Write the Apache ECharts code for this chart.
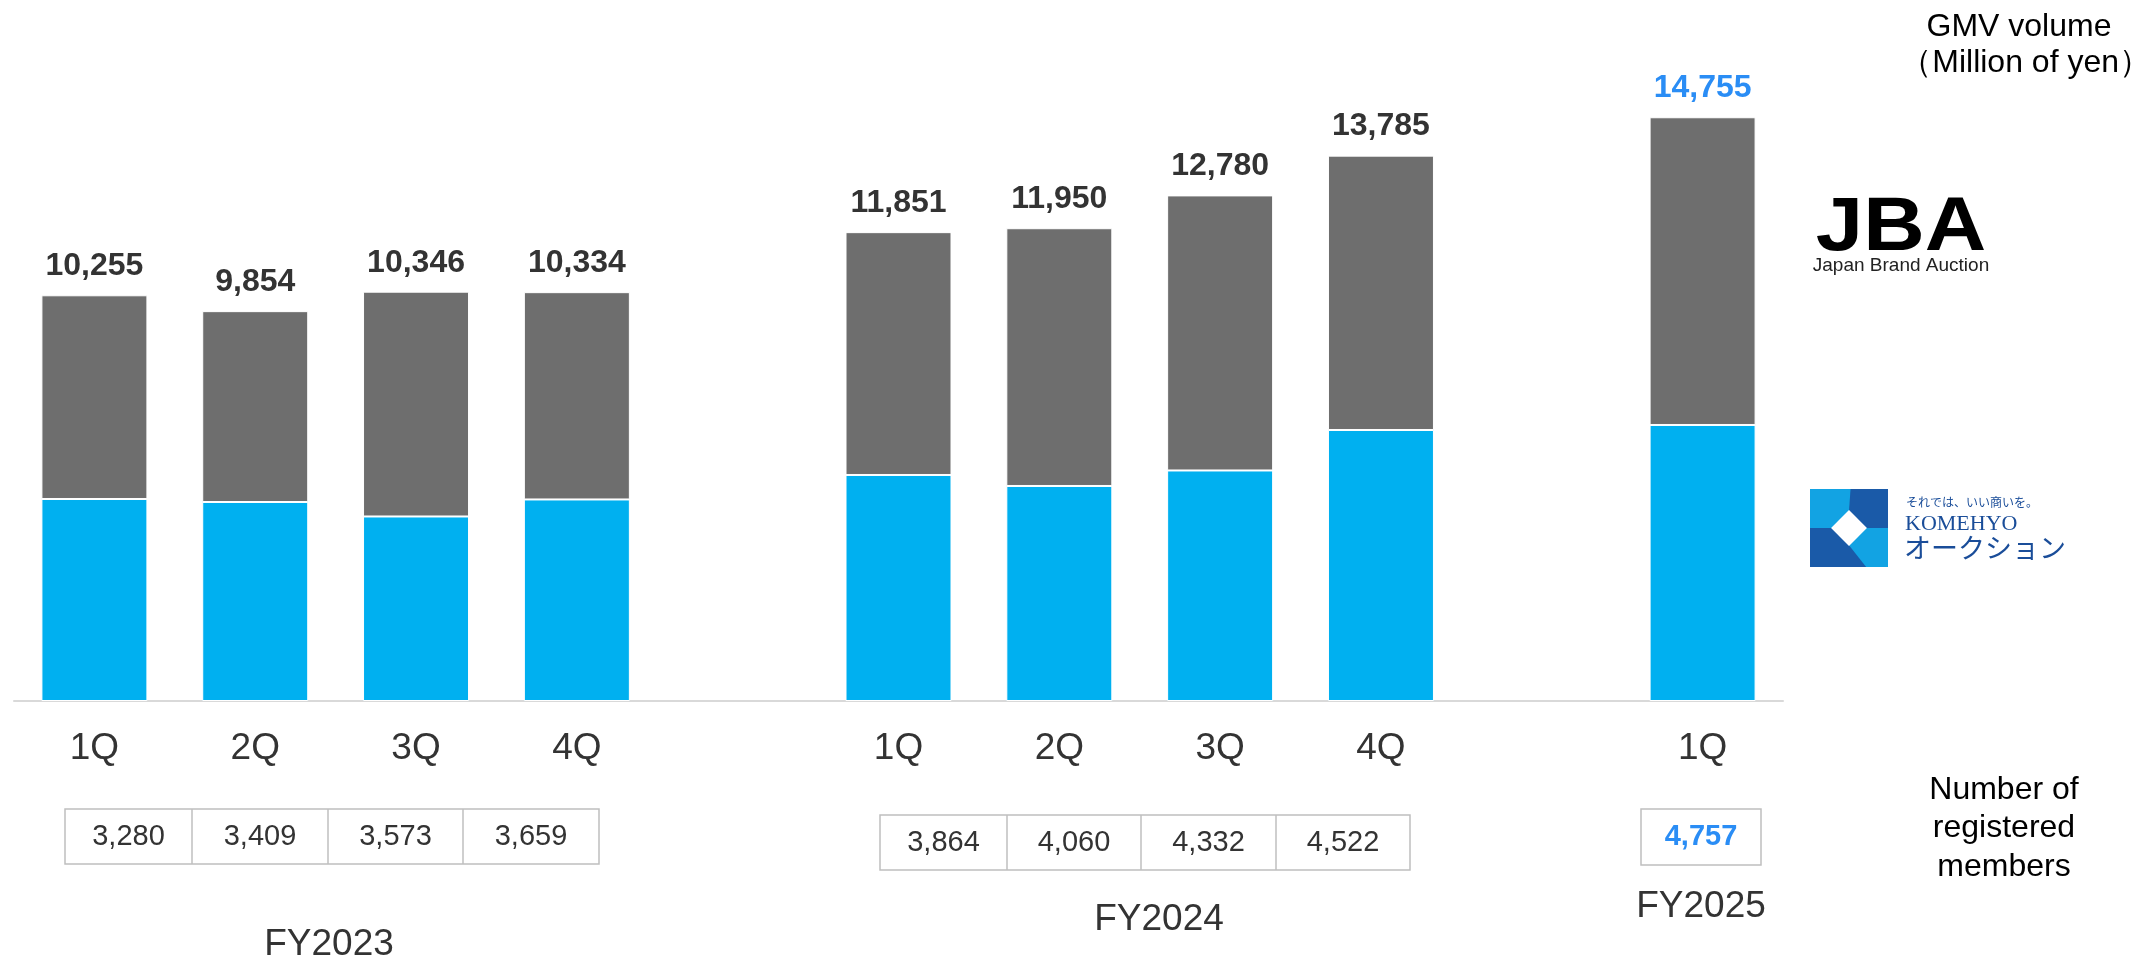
<!DOCTYPE html>
<html>
<head>
<meta charset="utf-8">
<script src="https://cdn.jsdelivr.net/npm/echarts@6/dist/echarts.min.js"></script>
<style>
  html, body { margin: 0; padding: 0; background: #ffffff; }
  #chart { width: 2152px; height: 961px; }
</style>
</head>
<body>
<div id="chart"></div>
<script>
// Quarter slots on the category axis; empty slots separate the fiscal years
const quarters = ['1Q', '2Q', '3Q', '4Q', '', '1Q', '2Q', '3Q', '4Q', '', '1Q'];
// Total GMV per quarter (million yen)
const totals = [10255, 9854, 10346, 10334, null, 11851, 11950, 12780, 13785, null, 14755];
// KOMEHYO Auction share of GMV (million yen)
const komehyo = [5106, 5030, 4664, 5094, null, 5713, 5435, 5827, 6850, null, 6977];
// Registered members per fiscal year
const fiscalYears = ['FY2023', 'FY2024', 'FY2025'];
const membersFY2023 = [3280, 3409, 3573, 3659];
const membersFY2024 = [3864, 4060, 4332, 4522];
const membersFY2025 = [4757];

const latestIndex = totals.length - 1;
const fmt = v => v.toLocaleString('en-US');
const TEXT = '#333333';
const HIGHLIGHT = '#2a8df5';
const SANS = '"Liberation Sans", Arial, sans-serif';

// JBA = total minus KOMEHYO, so the stack top equals the stated total
const jba = totals.map((t, i) => (t == null ? '-' : t - komehyo[i]));

const chart = echarts.init(document.getElementById('chart'), null, { renderer: 'canvas' });

// Member tables: one bordered row of cells per fiscal year
function memberTable(x, y, widths, height, values, highlight) {
  const els = [];
  const total = widths.reduce((a, b) => a + b, 0);
  els.push({ type: 'rect', shape: { x: x, y: y, width: total, height: height },
    style: { fill: '#ffffff', stroke: '#bfbfbf', lineWidth: 1.5 } });
  let cx = x;
  values.forEach((v, i) => {
    if (i > 0) {
      els.push({ type: 'line', shape: { x1: cx, y1: y, x2: cx, y2: y + height },
        style: { stroke: '#bfbfbf', lineWidth: 1.5 } });
    }
    els.push({ type: 'text', x: cx + widths[i] / 2, y: y + height / 2,
      style: { text: fmt(v), fontSize: 29, fontFamily: SANS,
        fontWeight: highlight ? 'bold' : 'normal',
        fill: highlight ? HIGHLIGHT : TEXT, align: 'center', verticalAlign: 'middle' } });
    cx += widths[i];
  });
  return els;
}

function label(text, x, y, size, color, align, weight) {
  return { type: 'text', x: x, y: y,
    style: { text: text, fontSize: size, fontFamily: SANS, fill: color,
      align: align || 'center', verticalAlign: 'middle', fontWeight: weight || 'normal' } };
}

// KOMEHYO Auction mark: quartered square with a white diamond
function komehyoMark(x, y, s) {
  const light = '#12a3e3', dark = '#1a5aa8';
  const p = pts => pts.map(q => [x + q[0] * s, y + q[1] * s]);
  return [
    { type: 'rect', shape: { x: x, y: y, width: s, height: s }, style: { fill: light } },
    { type: 'polygon', shape: { points: p([[0.52, 0], [1, 0], [1, 0.5], [0.72, 0.5], [0.5, 0.28]]) }, style: { fill: dark } },
    { type: 'polygon', shape: { points: p([[0, 0.5], [0.28, 0.5], [0.5, 0.72], [0.72, 1], [0, 1]]) }, style: { fill: dark } },
    { type: 'polygon', shape: { points: p([[0.5, 0.27], [0.73, 0.5], [0.5, 0.73], [0.27, 0.5]]) }, style: { fill: '#ffffff' } }
  ];
}

const graphics = [].concat(
  memberTable(65, 809, [127, 136, 135, 136], 55, membersFY2023, false),
  memberTable(880, 815, [127, 134, 135, 134], 55, membersFY2024, false),
  memberTable(1641, 809, [120], 56, membersFY2025, true),
  [
    label(fiscalYears[0], 329, 945, 37, TEXT),
    label(fiscalYears[1], 1159, 920, 37, TEXT),
    label(fiscalYears[2], 1701, 907, 37, TEXT),
    label('GMV volume', 2019, 27, 32, '#000000'),
    label('（Million of yen）', 2151, 63, 32, '#000000', 'right'),
    label('Number of', 2004, 790, 32, '#000000'),
    label('registered', 2004, 828, 32, '#000000'),
    label('members', 2004, 867, 32, '#000000'),
    { type: 'text', x: 1901, y: 229, scaleX: 1.12, originX: 0, originY: 0,
      style: { text: 'JBA', fontSize: 76, fontFamily: SANS, fontWeight: 900, fill: '#000000',
        align: 'center', verticalAlign: 'middle' } },
    label('Japan Brand Auction', 1901, 266, 19, '#222222'),
    { type: 'text', x: 1906, y: 502,
      style: { text: 'それでは、いい商いを。', fontSize: 12, fontFamily: '"Noto Sans CJK JP"',
        fill: '#1a4d99', align: 'left', verticalAlign: 'middle' } },
    { type: 'text', x: 1905, y: 524,
      style: { text: 'KOMEHYO', fontSize: 22, fontFamily: '"Liberation Serif", serif',
        fill: '#1a4d99', align: 'left', verticalAlign: 'middle' } },
    { type: 'text', x: 1904, y: 548,
      style: { text: 'オークション', fontSize: 27, fontFamily: '"Noto Sans CJK JP"',
        fill: '#1a4d99', align: 'left', verticalAlign: 'middle' } }
  ],
  komehyoMark(1810, 489, 78)
);

chart.setOption({
  animation: false,
  backgroundColor: '#ffffff',
  grid: { left: 14, right: 369, top: 68, bottom: 260, containLabel: false },
  xAxis: {
    type: 'category',
    data: quarters,
    axisTick: { show: false },
    axisLine: { lineStyle: { color: '#d9d9d9', width: 2 } },
    axisLabel: { fontSize: 37, color: TEXT, margin: 29, fontFamily: SANS }
  },
  yAxis: { type: 'value', min: 0, max: 16000, show: false, splitLine: { show: false } },
  series: [
    {
      name: 'KOMEHYO',
      type: 'bar',
      stack: 'gmv',
      barWidth: 106,
      data: komehyo.map(v => (v == null ? '-' : v)),
      itemStyle: { color: '#00b0f0', borderColor: '#ffffff', borderWidth: 1 }
    },
    {
      name: 'JBA',
      type: 'bar',
      stack: 'gmv',
      barWidth: 106,
      data: jba.map((v, i) => ({ value: v, label: { color: i === latestIndex ? HIGHLIGHT : TEXT } })),
      itemStyle: { color: '#6e6e6e', borderColor: '#ffffff', borderWidth: 1 },
      label: {
        show: true,
        position: 'top',
        distance: 13,
        fontSize: 32,
        fontWeight: 'bold',
        fontFamily: SANS,
        formatter: p => (totals[p.dataIndex] == null ? '' : fmt(totals[p.dataIndex]))
      }
    }
  ],
  graphic: graphics
});
</script>
</body>
</html>
